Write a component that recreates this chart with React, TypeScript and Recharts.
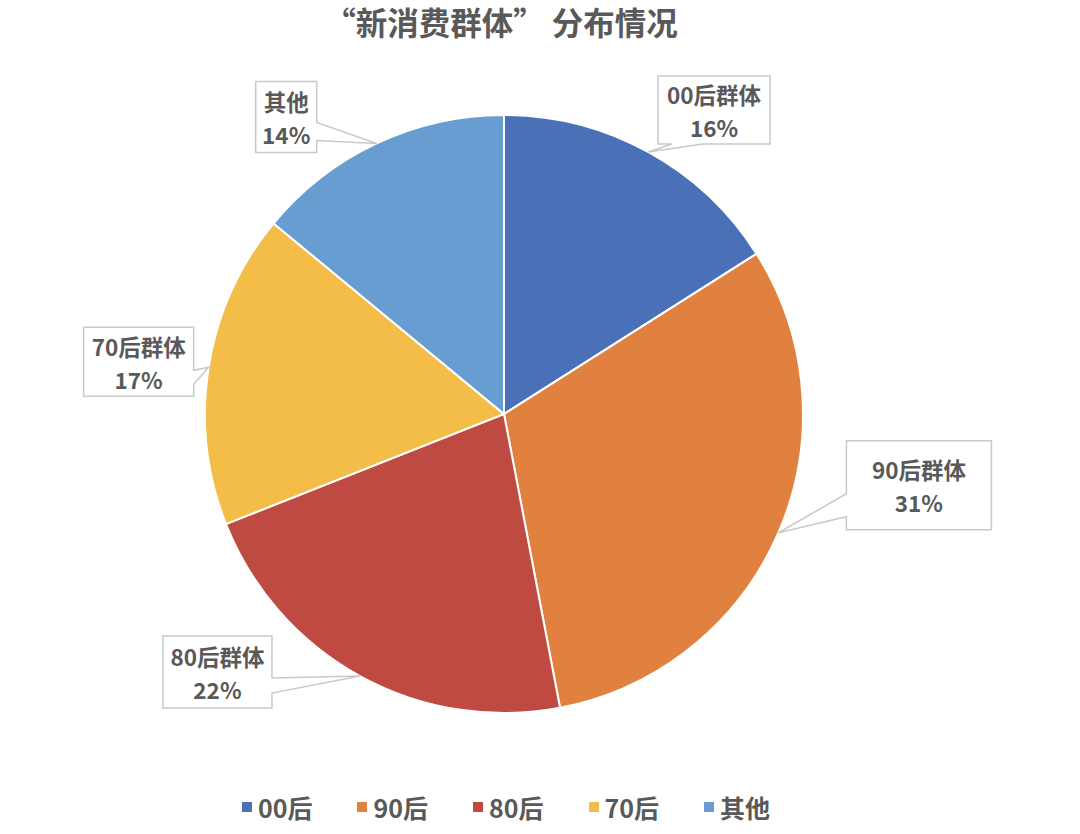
import React from 'react';
import { PieChart, Pie, Cell, Legend } from 'recharts';

const categories = ['00后', '90后', '80后', '70后', '其他'];
const shares = [16, 31, 22, 17, 14];
const calloutNames = ['00后群体', '90后群体', '80后群体', '70后群体', '其他'];
const colors = ['#4A71B8', '#E0813F', '#BF4A42', '#F3BD48', '#689DD2'];
const title = '“新消费群体” 分布情况';

const FONT = '"Noto Sans CJK SC", "Noto Sans", sans-serif';
const TEXT_COLOR = '#595959';
const RAD = Math.PI / 180;

// callout box layout relative to the slice's outer mid point
const calloutLayout = [
  { left: 10, top: -76, w: 112, h: 68, side: 'bottom', b0: 14, b1: 45 },
  { left: 68, top: -92, w: 145, h: 89, side: 'left', b0: 53, b1: 76 },
  { left: -197, top: -40, w: 109, h: 72, side: 'right', b0: 42, b1: 57 },
  { left: -125, top: -40, w: 110, h: 69, side: 'right', b0: 43, b1: 57 },
  { left: -121, top: -62, w: 61, h: 71, side: 'right', b0: 41, b1: 59 },
];

const data = categories.map((c, i) => ({ name: c, value: shares[i] }));

const renderCallout = (props: any) => {
  const { cx, cy, midAngle, outerRadius, index, value } = props;
  const tx = cx + outerRadius * Math.cos(-midAngle * RAD);
  const ty = cy + outerRadius * Math.sin(-midAngle * RAD);
  const L = calloutLayout[index];
  const x0 = tx + L.left;
  const y0 = ty + L.top;
  const x1 = x0 + L.w;
  const y1 = y0 + L.h;
  let d = '';
  if (L.side === 'right') {
    d = `M${x0},${y0} H${x1} V${y0 + L.b0} L${tx},${ty} L${x1},${y0 + L.b1} V${y1} H${x0} Z`;
  } else if (L.side === 'left') {
    d = `M${x0},${y0} H${x1} V${y1} H${x0} V${y0 + L.b1} L${tx},${ty} L${x0},${y0 + L.b0} Z`;
  } else {
    d = `M${x0},${y0} H${x1} V${y1} H${x0 + L.b1} L${tx},${ty} L${x0 + L.b0},${y1} H${x0} Z`;
  }
  const mx = (x0 + x1) / 2;
  const my = (y0 + y1) / 2;
  return (
    <g key={`callout-${index}`}>
      <path d={d} fill="#ffffff" stroke="#c9c9c9" strokeWidth={1.5} />
      <text x={mx} y={my - 16} textAnchor="middle" dominantBaseline="central" fill={TEXT_COLOR} fontSize={22.5} fontWeight={700} fontFamily={FONT}>
        {calloutNames[index]}
      </text>
      <text x={mx} y={my + 17} textAnchor="middle" dominantBaseline="central" fill={TEXT_COLOR} fontSize={22.5} fontWeight={700} fontFamily={FONT}>
        {`${value}%`}
      </text>
    </g>
  );
};

const renderLegend = () => (
  <div style={{ display: 'flex', justifyContent: 'center', alignItems: 'center', gap: 45, height: 32 }}>
    {categories.map((c, i) => (
      <div key={c} style={{ display: 'flex', alignItems: 'center' }}>
        <span style={{ display: 'inline-block', width: 10, height: 10, background: colors[i], marginRight: 6 }} />
        <span style={{ fontFamily: FONT, fontSize: 25, fontWeight: 700, color: TEXT_COLOR, lineHeight: '32px' }}>{c}</span>
      </div>
    ))}
  </div>
);

export default function App() {
  return (
    <div style={{ position: 'absolute', left: 0, top: 0, width: 1080, height: 834, background: '#ffffff' }}>
      <div
        style={{
          position: 'absolute',
          top: 2,
          left: 0,
          width: 1002,
          textAlign: 'center',
          fontFamily: FONT,
          fontSize: 31.5,
          fontWeight: 700,
          color: TEXT_COLOR,
          lineHeight: '38px',
          zIndex: 2,
        }}
      >
        {title}
      </div>
      <PieChart width={1080} height={834} margin={{ top: 0, right: 0, bottom: 0, left: 0 }}>
        <Pie
          data={data}
          dataKey="value"
          nameKey="name"
          cx={504}
          cy={414}
          outerRadius={299}
          startAngle={90}
          endAngle={-270}
          stroke="#ffffff"
          strokeWidth={2}
          label={renderCallout}
          labelLine={false}
          isAnimationActive={false}
        >
          {data.map((d, i) => (
            <Cell key={d.name} fill={colors[i]} />
          ))}
        </Pie>
        <Legend content={renderLegend} wrapperStyle={{ top: 791, left: 0, width: 1012, bottom: 'auto' }} />
      </PieChart>
    </div>
  );
}
